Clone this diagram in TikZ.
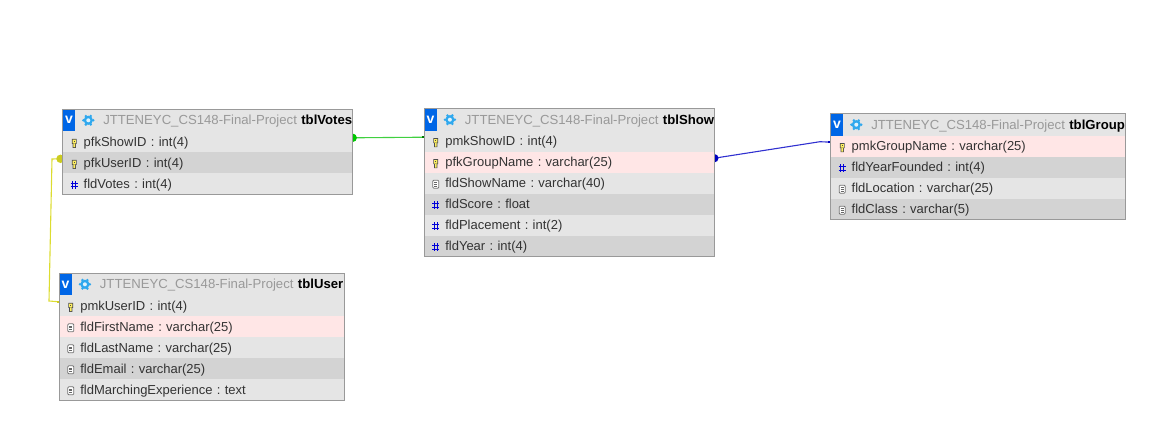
\documentclass[tikz,border=0pt]{standalone}
\usepackage{fontspec}
\setmainfont{Liberation Sans}
\usetikzlibrary{calc}
\pgfdeclarelayer{under}
\pgfsetlayers{under,main}
\definecolor{rowlight}{HTML}{E5E5E5}
\definecolor{rowdark}{HTML}{D3D3D3}
\definecolor{rowpink}{HTML}{FFE6E6}
\definecolor{frameC}{HTML}{999999}
\definecolor{titleC}{HTML}{999999}
\definecolor{vblue}{HTML}{0066E6}
\definecolor{gearC}{HTML}{2FA8EE}
\definecolor{textC}{HTML}{333333}
\definecolor{greenLine}{HTML}{40D040}
\definecolor{greenDot}{HTML}{00C800}
\definecolor{yellowLine}{HTML}{DCDC30}
\definecolor{yellowDot}{HTML}{CCCC20}
\definecolor{blueLine}{HTML}{3030D0}
\definecolor{blueDot}{HTML}{0000C0}
\definecolor{keyFill}{HTML}{FFF060}
\tikzset{
  x=1pt,y=-1pt,
  rowbase/.style={anchor=north west,inner sep=0pt,outer sep=0pt,minimum height=21pt,
    align=left,font=\fontsize{13}{15}\selectfont\frenchspacing,text=textC,text height=10pt,text depth=1pt},
  light/.style={rowbase,fill=rowlight},
  dark/.style={rowbase,fill=rowdark},
  pink/.style={rowbase,fill=rowpink},
  headrow/.style={rowbase,fill=rowlight,minimum height=22pt,font=\fontsize{13.15}{15}\selectfont\frenchspacing},
  vbtn/.style={anchor=north west,inner sep=0pt,outer sep=0pt,fill=vblue,text=white,minimum width=12.5pt,minimum height=22pt,
    font=\fontsize{14}{15}\bfseries\selectfont},
  frameline/.style={draw=frameC,line width=0.9pt},
  keyicon/.pic={
    \fill[black!70] (-2.4,-4) rectangle (2.4,1) (-1.6,1) rectangle (1.6,5);
    \fill[keyFill] (-1.6,-3.2) rectangle (1.6,0.3) (-0.8,0.8) rectangle (0.8,4.3);
    \fill[black!70] (-0.6,-2) rectangle (0.6,-1);
  },
  docicon/.pic={
    \draw[black!55,fill=white,line width=0.8pt,rounded corners=1pt] (-3,-4) rectangle (3,4);
    \draw[black!60,line width=0.7pt] (-1.6,-1.8) -- (1.6,-1.8) (-1.6,0) -- (1.6,0) (-1.6,1.8) -- (1.6,1.8);
  },
  numicon/.pic={
    \draw[blue!85!black,line width=0.9pt] (-1.7,-4) -- (-1.7,4) (1.7,-4) -- (1.7,4) (-3.6,-1.6) -- (3.6,-1.6) (-3.6,1.8) -- (3.6,1.8);
  },
  gearicon/.pic={
    \fill[gearC] (0,0) circle (4.6);
    \foreach \a in {0,60,...,300}{\fill[gearC] (\a:4.9) circle (1.4);}
    \fill[white!85!gearC] (0,0) circle (2);
  }
}
% \dbhead{prefix}{x}{y}{width}{table}
\newcommand{\dbhead}[5]{%
  \node[headrow,minimum width=#4pt,text width=#4pt] (#1h) at (#2,#3)
    {\hspace*{40.6pt}\textcolor{titleC}{JTTENEYC\_CS148-Final-Project} \textcolor{black}{\bfseries #5}};
  \node[vbtn] (#1v) at (#2,#3) {v};
  \pic at ($(#1h.west)+(25.6,0)$) {gearicon};
}
% \dbrow{name}{above}{style}{icon}{width}{text}
\newcommand{\dbrow}[6]{%
  \node[#3,minimum width=#5pt,text width=#5pt] (#1) at (#2.south west) {\hspace*{21pt}#6};
  \pic at ($(#1.west)+(11.5,1)$) {#4};
}
\begin{document}
\begin{tikzpicture}
\useasboundingbox (0,0) rectangle (1160,436);

% tblVotes
\dbhead{v}{62.7}{109.3}{290}{tblVotes}
\dbrow{v1}{vh}{light}{keyicon}{290}{pfkShowID : int(4)}
\dbrow{v2}{v1}{dark}{keyicon}{290}{pfkUserID : int(4)}
\dbrow{v3}{v2}{light}{numicon}{290}{fldVotes : int(4)}
\draw[frameline] (vh.north west) rectangle (v3.south east);

% tblUser
\dbhead{u}{59.3}{273.3}{285}{tblUser}
\dbrow{u1}{uh}{light}{keyicon}{285}{pmkUserID : int(4)}
\dbrow{u2}{u1}{pink}{docicon}{285}{fldFirstName : varchar(25)}
\dbrow{u3}{u2}{light}{docicon}{285}{fldLastName : varchar(25)}
\dbrow{u4}{u3}{dark}{docicon}{285}{fldEmail : varchar(25)}
\dbrow{u5}{u4}{light}{docicon}{285}{fldMarchingExperience : text}
\draw[frameline] (uh.north west) rectangle (u5.south east);

% tblShow
\dbhead{s}{424.3}{108.7}{290}{tblShow}
\dbrow{s1}{sh}{light}{keyicon}{290}{pmkShowID : int(4)}
\dbrow{s2}{s1}{pink}{keyicon}{290}{pfkGroupName : varchar(25)}
\dbrow{s3}{s2}{light}{docicon}{290}{fldShowName : varchar(40)}
\dbrow{s4}{s3}{dark}{numicon}{290}{fldScore : float}
\dbrow{s5}{s4}{light}{numicon}{290}{fldPlacement : int(2)}
\dbrow{s6}{s5}{dark}{numicon}{290}{fldYear : int(4)}
\draw[frameline] (sh.north west) rectangle (s6.south east);

% tblGroup
\dbhead{g}{830.7}{113.7}{295}{tblGroup}
\dbrow{g1}{gh}{pink}{keyicon}{295}{pmkGroupName : varchar(25)}
\dbrow{g2}{g1}{dark}{numicon}{295}{fldYearFounded : int(4)}
\dbrow{g3}{g2}{light}{docicon}{295}{fldLocation : varchar(25)}
\dbrow{g4}{g3}{dark}{docicon}{295}{fldClass : varchar(5)}
\draw[frameline] (gh.north west) rectangle (g4.south east);

% connectors
\coordinate (vS) at ([yshift=4pt]v1.east);
\coordinate (sE) at ([yshift=4pt]s1.west);
\coordinate (v2S) at ([yshift=4pt,xshift=-2.2pt]v2.west);
\coordinate (u1E) at ([yshift=4pt]u1.west);
\coordinate (s2S) at ([yshift=4pt]s2.east);
\coordinate (g1E) at ([yshift=4pt]g1.west);
\coordinate (yA) at (52,159);
\coordinate (yB) at (49,301);
\coordinate (bA) at (820,141.7);
\begin{pgfonlayer}{under}
  \draw[greenLine,line width=1.1pt] (vS) -- (sE);
  \fill[greenDot] (vS) circle (4.2);
  \fill[greenDot!60!black] ($(sE)+(-2.5,-1)$) rectangle ($(sE)+(0,1)$);
  \draw[yellowLine,line width=1.1pt] (v2S) -- (yA) -- (yB) -- (u1E);
  \fill[yellowDot] (v2S) circle (4.2);
  \draw[blueLine,line width=1.1pt] (s2S) -- (bA) -- (g1E);
  \fill[blueDot] (s2S) circle (4.2);
  \fill[blueDot] ($(g1E)+(-2.5,-1)$) rectangle ($(g1E)+(0,1)$);
  \fill[yellowDot] ($(u1E)+(-2.5,-1)$) rectangle ($(u1E)+(0,1)$);
\end{pgfonlayer}
\end{tikzpicture}
\end{document}
